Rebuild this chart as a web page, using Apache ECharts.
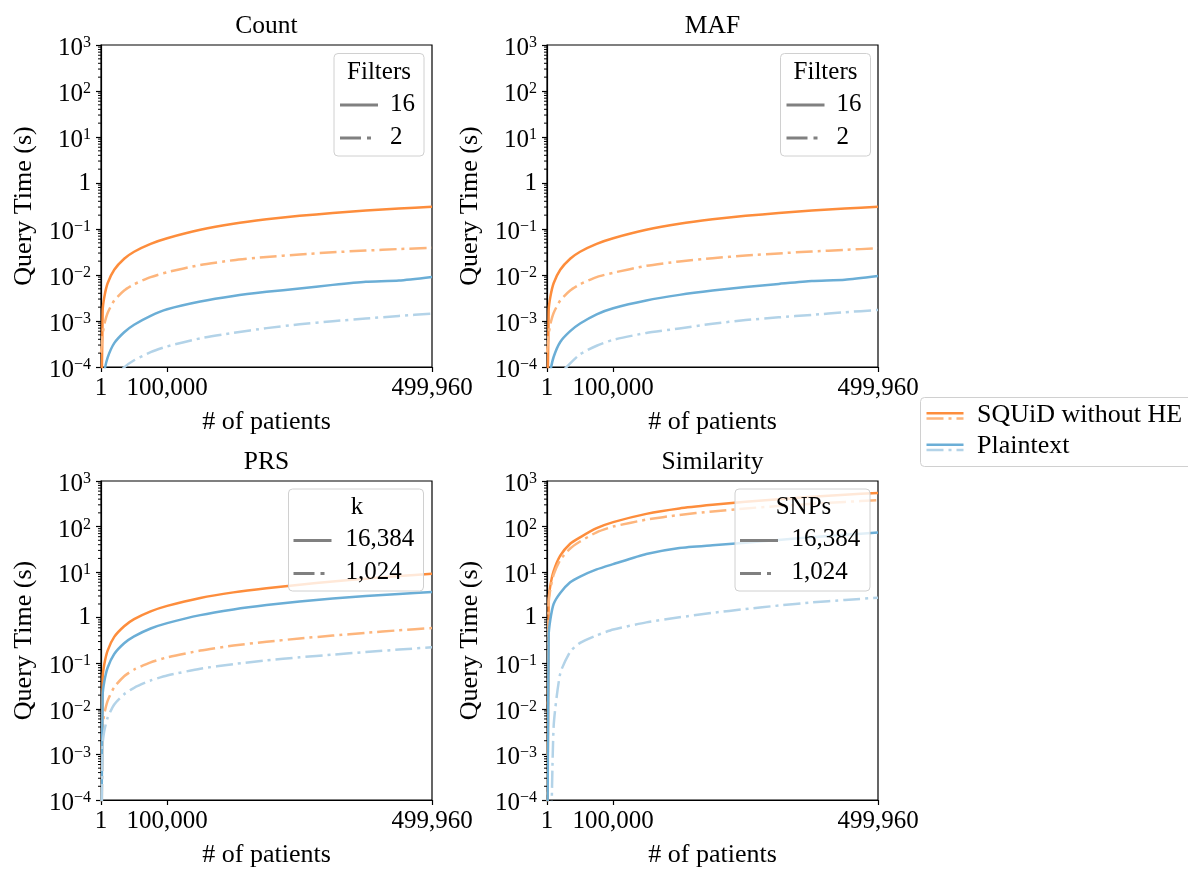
<!DOCTYPE html>
<html>
<head>
<meta charset="utf-8">
<script src="https://cdn.jsdelivr.net/npm/echarts@6/dist/echarts.min.js"></script>
<style>
html,body{margin:0;padding:0;background:#fff;}
#chart{width:1188px;height:869px;}
</style>
</head>
<body>
<div id="chart"></div>
<script>
// ---------------- data ----------------
const patients = [1, 2500, 5000, 10000, 20000, 35000, 50000, 75000, 100000, 150000, 200000, 250000, 300000, 350000, 400000, 450000, 499960];
const xTickValues = [1, 100000, 499960];
const panelTitles = ['Count', 'MAF', 'PRS', 'Similarity'];
const legendTitles = ['Filters', 'Filters', 'k', 'SNPs'];
const legendLabels = [['16', '2'], ['16', '2'], ['16,384', '1,024'], ['16,384', '1,024']];
const methodNames = ['SQUiD without HE', 'Plaintext'];

const countSquidHigh = [1e-6, 0.00165, 0.0033, 0.0066, 0.013, 0.0225, 0.032, 0.0475, 0.063, 0.096, 0.13, 0.162, 0.193, 0.222, 0.251, 0.278, 0.305];
const countSquidLow  = [2e-4, 5e-4, 8.5e-4, 1.5e-3, 2.8e-3, 4.6e-3, 6.3e-3, 9e-3, 0.0115, 0.0165, 0.021, 0.0247, 0.028, 0.0312, 0.034, 0.0367, 0.039];
const countPlainHigh = [1e-6, 4e-5, 8e-5, 1.6e-4, 3.3e-4, 5.7e-4, 8.3e-4, 1.3e-3, 1.8e-3, 2.65e-3, 3.5e-3, 4.3e-3, 5.1e-3, 6.1e-3, 7.1e-3, 7.6e-3, 9.1e-3];
const countPlainLow  = [3e-9, 7e-6, 1.4e-5, 2.8e-5, 5.6e-5, 9.8e-5, 1.4e-4, 2.1e-4, 2.8e-4, 4.2e-4, 5.5e-4, 7e-4, 8.5e-4, 9.9e-4, 1.13e-3, 1.29e-3, 1.45e-3];

const mafSquidHigh = [1e-6, 0.00165, 0.0033, 0.0066, 0.013, 0.0225, 0.032, 0.0475, 0.063, 0.096, 0.13, 0.162, 0.193, 0.222, 0.251, 0.278, 0.305];
const mafSquidLow  = [2e-4, 5e-4, 8.5e-4, 1.5e-3, 2.8e-3, 4.6e-3, 6.3e-3, 9e-3, 0.0112, 0.0158, 0.0197, 0.0232, 0.0265, 0.0295, 0.0325, 0.0352, 0.038];
const mafPlainHigh = [1e-6, 4e-5, 8e-5, 1.65e-4, 3.5e-4, 6e-4, 8.8e-4, 1.4e-3, 1.9e-3, 2.8e-3, 3.7e-3, 4.6e-3, 5.5e-3, 6.4e-3, 7.4e-3, 7.9e-3, 9.5e-3];
const mafPlainLow  = [3e-9, 9e-6, 1.8e-5, 3.6e-5, 7e-5, 1.2e-4, 1.9e-4, 2.9e-4, 3.9e-4, 5.5e-4, 6.9e-4, 8.7e-4, 1.05e-3, 1.2e-3, 1.36e-3, 1.55e-3, 1.74e-3];

const prsSquidHigh = [1e-6, 0.048, 0.095, 0.19, 0.38, 0.65, 0.93, 1.38, 1.82, 2.72, 3.6, 4.45, 5.3, 6.25, 7.2, 8.2, 9.2];
const prsSquidLow  = [1e-6, 0.004, 0.0078, 0.015, 0.03, 0.052, 0.073, 0.105, 0.135, 0.19, 0.245, 0.297, 0.35, 0.405, 0.465, 0.53, 0.595];
const prsPlainHigh = [1e-6, 0.02, 0.04, 0.08, 0.16, 0.275, 0.39, 0.58, 0.76, 1.14, 1.52, 1.9, 2.27, 2.63, 2.98, 3.33, 3.67];
const prsPlainLow  = [1e-6, 0.0017, 0.0033, 0.0064, 0.0125, 0.021, 0.029, 0.042, 0.054, 0.076, 0.096, 0.116, 0.135, 0.155, 0.177, 0.2, 0.225];

const simSquidHigh = [1e-7, 2.4, 5, 10.5, 23, 42, 58, 92, 125, 190, 250, 300, 350, 400, 450, 500, 548];
const simSquidLow  = [1e-7, 2, 4.2, 8.8, 18.5, 33, 47, 75, 100, 142, 180, 215, 250, 283, 315, 348, 380];
const simPlainHigh = [1e-7, 0.4, 0.9, 2, 3.5, 6, 8, 11.5, 15, 25, 34, 39, 44, 51, 58, 66, 74];
const simPlainLow  = [1e-9, 1e-8, 1e-6, 0.004, 0.06, 0.18, 0.28, 0.41, 0.55, 0.79, 1.02, 1.28, 1.55, 1.85, 2.16, 2.45, 2.75];

const panels = [
  [countSquidHigh, countSquidLow, countPlainHigh, countPlainLow],
  [mafSquidHigh, mafSquidLow, mafPlainHigh, mafPlainLow],
  [prsSquidHigh, prsSquidLow, prsPlainHigh, prsPlainLow],
  [simSquidHigh, simSquidLow, simPlainHigh, simPlainLow]
];

// ---------------- style ----------------
const FONT = '"Liberation Serif", "Times New Roman", serif';
const FS = 25;
const ORANGE = '#fd8d3c', ORANGE_LIGHT = '#fdb57c';
const BLUE = '#6baed6', BLUE_LIGHT = '#b3d3e8';
const DASHDOT = [17, 5, 3, 5];
const seriesStyles = [
  {color: ORANGE, dash: 'solid'},
  {color: ORANGE_LIGHT, dash: DASHDOT},
  {color: BLUE, dash: 'solid'},
  {color: BLUE_LIGHT, dash: DASHDOT}
];
const gridBoxes = [
  {left: 101, top: 45},
  {left: 547, top: 45},
  {left: 101, top: 481},
  {left: 547, top: 481}
];
const GW = 331, GH = 322;

const yMinorValues = [];
for (let e = -4; e < 3; e++) for (let m = 2; m <= 9; m++) yMinorValues.push(m * Math.pow(10, e));

const grid = [], xAxis = [], yAxis = [], series = [], elements = [];

gridBoxes.forEach((g, i) => {
  grid.push({left: g.left, top: g.top, width: GW, height: GH, show: true,
    borderColor: '#000', borderWidth: 1.2, backgroundColor: 'transparent'});
  xAxis.push({
    type: 'value', gridIndex: i, min: 1, max: 499960,
    name: '# of patients', nameLocation: 'middle', nameGap: 42,
    nameTextStyle: {fontSize: 26, fontFamily: FONT, color: '#000'},
    axisLine: {show: true, onZero: false, lineStyle: {color: '#000', width: 1.2}},
    axisTick: {show: true, inside: false, length: 5, customValues: xTickValues, lineStyle: {color: '#000', width: 1.2}},
    axisLabel: {show: true, customValues: xTickValues, margin: 9, fontSize: FS, fontFamily: FONT, color: '#000',
      formatter: v => Number(v).toLocaleString('en-US')},
    splitLine: {show: false}
  });
  yAxis.push({
    type: 'log', logBase: 10, gridIndex: i, min: 1e-4, max: 1e3,
    name: 'Query Time (s)', nameLocation: 'middle', nameGap: 64,
    nameTextStyle: {fontSize: 26, fontFamily: FONT, color: '#000'},
    axisLine: {show: true, lineStyle: {color: '#000', width: 1.2}},
    axisTick: {show: true, inside: false, length: 5, lineStyle: {color: '#000', width: 1.2}},
    axisLabel: {
      show: true, margin: 10, color: '#000', fontFamily: FONT,
      formatter: v => {
        const e = Math.round(Math.log10(v));
        if (e === 0) return '{b|1}';
        return '{t|10}{s|' + (e < 0 ? '\u2212' : '') + Math.abs(e) + '}';
      },
      rich: {
        b: {fontSize: FS, lineHeight: FS, fontFamily: FONT, color: '#000'},
        t: {fontSize: FS, lineHeight: FS, fontFamily: FONT, color: '#000', padding: [7, 0, 0, 0]},
        s: {fontSize: 16, lineHeight: 16, fontFamily: FONT, color: '#000', padding: [0, 0, 4, 0]}
      }
    },
    splitLine: {show: false},
    minorTick: {show: false}
  });

  panels[i].forEach((vals, k) => {
    series.push({
      type: 'line', xAxisIndex: i, yAxisIndex: i,
      data: patients.map((x, j) => [x, vals[j]]),
      showSymbol: false, symbol: 'none', smooth: 0.2,
      lineStyle: {color: seriesStyles[k].color, width: 2.5, type: seriesStyles[k].dash, cap: 'butt', join: 'round'},
      clip: true, animation: false, silent: true, z: 3
    });
  });

  // minor log ticks on the y axis
  series.push({
    type: 'custom', xAxisIndex: i, yAxisIndex: i, silent: true, animation: false, z: 4,
    data: yMinorValues.map(v => [1, v]),
    renderItem: (params, api) => {
      const p = api.coord([api.value(0), api.value(1)]);
      return {type: 'line', shape: {x1: p[0] - 3, y1: p[1], x2: p[0], y2: p[1]},
        style: {stroke: '#000', lineWidth: 1}};
    }
  });

  elements.push({type: 'text', x: g.left + GW / 2, y: g.top - 18.5, z: 100,
    style: {text: panelTitles[i], fontSize: 25.5, fontFamily: FONT, fill: '#000', align: 'center', verticalAlign: 'middle'}});
});

// inner legends (Filters / k / SNPs)
const legendBoxes = [
  {x: 334, y: 53.5, w: 90, h: 102.5, lx: 340, tx: 390},
  {x: 780.5, y: 53.5, w: 90, h: 102.5, lx: 786.5, tx: 836.5},
  {x: 288.5, y: 489, w: 135, h: 102, lx: 293.5, tx: 345.5},
  {x: 735, y: 489, w: 135, h: 102, lx: 740, tx: 791.5}
];
legendBoxes.forEach((b, i) => {
  elements.push(
    {type: 'rect', z: 100, shape: {x: b.x, y: b.y, width: b.w, height: b.h, r: 4},
      style: {fill: 'rgba(255,255,255,0.8)', stroke: '#d0d0d0', lineWidth: 1}},
    {type: 'text', z: 101, x: b.x + b.w / 2 + (i >= 2 ? 1 : 0), y: b.y + 18.5,
      style: {text: legendTitles[i], fontSize: FS, fontFamily: FONT, fill: '#000', align: 'center', verticalAlign: 'middle'}},
    {type: 'line', z: 101, shape: {x1: b.lx, y1: b.y + 51.5, x2: b.lx + 38, y2: b.y + 51.5},
      style: {stroke: '#808080', lineWidth: 3}},
    {type: 'line', z: 101, shape: {x1: b.lx, y1: b.y + 84.5, x2: b.lx + 38, y2: b.y + 84.5},
      style: {stroke: '#808080', lineWidth: 3, lineDash: [21, 6, 4, 20]}},
    {type: 'text', z: 101, x: b.tx, y: b.y + 50.5,
      style: {text: legendLabels[i][0], fontSize: FS, fontFamily: FONT, fill: '#000', align: 'left', verticalAlign: 'middle'}},
    {type: 'text', z: 101, x: b.tx, y: b.y + 83.5,
      style: {text: legendLabels[i][1], fontSize: FS, fontFamily: FONT, fill: '#000', align: 'left', verticalAlign: 'middle'}}
  );
});

// global legend
elements.push(
  {type: 'rect', z: 100, shape: {x: 920.5, y: 397.5, width: 300, height: 69, r: 4},
    style: {fill: 'rgba(255,255,255,0.8)', stroke: '#d0d0d0', lineWidth: 1}},
  {type: 'line', z: 101, shape: {x1: 926.5, y1: 413.3, x2: 963.5, y2: 413.3}, style: {stroke: ORANGE, lineWidth: 2.5}},
  {type: 'line', z: 101, shape: {x1: 926.5, y1: 418.5, x2: 963.5, y2: 418.5}, style: {stroke: ORANGE_LIGHT, lineWidth: 2.5, lineDash: DASHDOT}},
  {type: 'line', z: 101, shape: {x1: 926.5, y1: 444.8, x2: 963.5, y2: 444.8}, style: {stroke: BLUE, lineWidth: 2.5}},
  {type: 'line', z: 101, shape: {x1: 926.5, y1: 450, x2: 963.5, y2: 450}, style: {stroke: BLUE_LIGHT, lineWidth: 2.5, lineDash: DASHDOT}},
  {type: 'text', z: 101, x: 977, y: 415.5, style: {text: methodNames[0], fontSize: 26, fontFamily: FONT, fill: '#000', align: 'left', verticalAlign: 'middle'}},
  {type: 'text', z: 101, x: 977, y: 446.5, style: {text: methodNames[1], fontSize: 26, fontFamily: FONT, fill: '#000', align: 'left', verticalAlign: 'middle'}}
);

const chart = echarts.init(document.getElementById('chart'), null, {renderer: 'canvas'});
chart.setOption({
  animation: false,
  backgroundColor: '#fff',
  textStyle: {fontFamily: FONT},
  grid, xAxis, yAxis, series,
  graphic: {elements}
});
</script>
</body>
</html>
